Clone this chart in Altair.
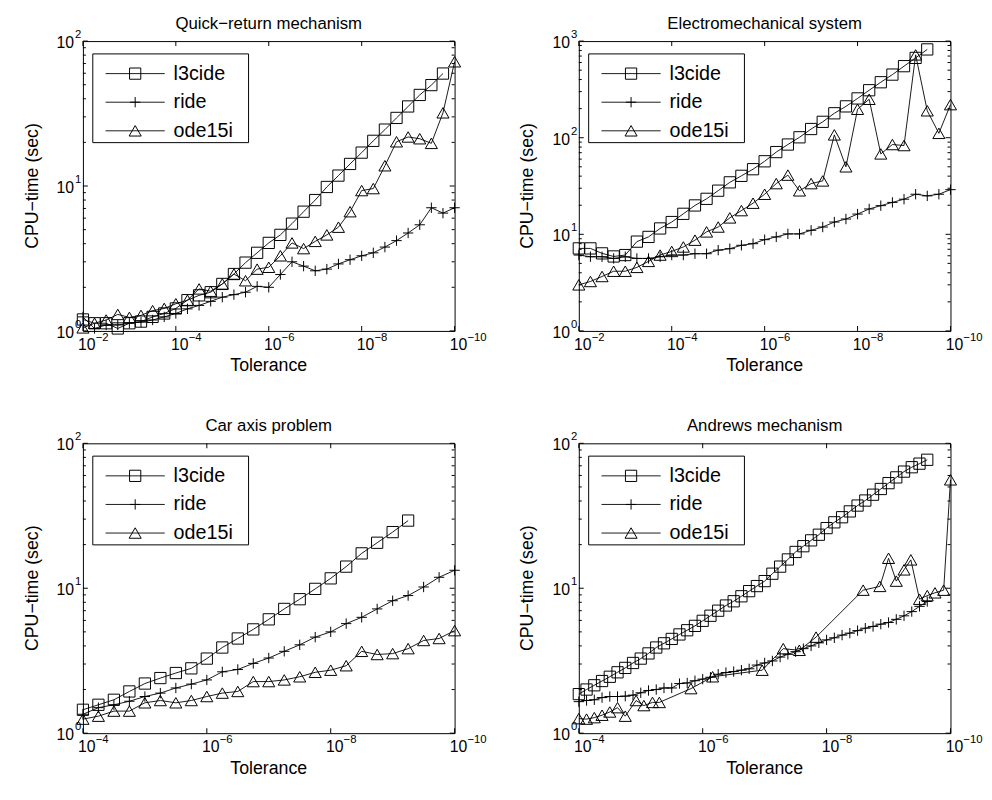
import altair as alt
import pandas as pd

FONT = "Liberation Sans"
W, H = 377, 294

# ---------------- data ----------------
# Tolerance exponents: 10^-2 ... 10^-10 in quarter decades (top row),
# 10^-4 ... 10^-10 in quarter decades (car axis), eighth decades (Andrews)
QR_EXP = [-2 - 0.25 * i for i in range(33)]
EM_EXP = [-2 - 0.25 * i for i in range(33)]
CA_EXP = [-4 - 0.25 * i for i in range(25)]
AM_EXP = [-4 - 0.125 * i for i in range(49)]

# Quick-return mechanism
QR_L3CIDE = [1.2, 1.13, 1.13, 1.04, 1.13, 1.16, 1.25, 1.32, 1.43, 1.63, 1.76, 1.85,
             2.11, 2.47, 2.96, 3.46, 4.05, 4.6, 5.5, 6.65, 8.0, 9.85, 11.8, 14.2,
             17.0, 20.5, 24.5, 29.5, 35.4, 42.5, 49.7, 59.7]
QR_RIDE = [1.25, 1.04, 1.1, 1.1, 1.13, 1.15, 1.19, 1.25, 1.32, 1.42, 1.5, 1.6,
           1.71, 1.78, 1.85, 2.03, 2.0, 2.45, 3.0, 2.8, 2.6, 2.67, 2.9, 3.1,
           3.3, 3.46, 3.79, 4.2, 4.74, 5.4, 7.08, 6.5, 7.08]
QR_ODE15I = [1.05, 1.13, 1.19, 1.3, 1.24, 1.28, 1.38, 1.43, 1.54, 1.63, 1.95, 1.88,
             2.11, 2.47, 2.22, 2.67, 2.75, 3.3, 4.05, 3.7, 4.15, 4.6, 5.2, 6.65,
             9.3, 9.6, 13.8, 20.2, 21.8, 21.2, 19.7, 32.0, 72.0]

# Electromechanical system
EM_L3CIDE = [7.15, 7.15, 6.35, 5.9, 6.1, 8.4, 9.4, 11.5, 13.4, 16.3, 19.9, 23.3,
             28.3, 34.5, 40.3, 47.2, 57.0, 71.0, 85.0, 101.0, 123.0, 146.0, 179.0,
             211.0, 255.0, 310.0, 375.0, 450.0, 550.0, 670.0, 820.0]
EM_RIDE = [6.1, 5.86, 5.86, 5.63, 5.86, 5.63, 5.63, 5.86, 6.1, 6.1, 6.3, 6.3,
           6.86, 7.1, 7.7, 8.0, 8.8, 9.4, 10.1, 10.1, 11.0, 11.9, 13.4, 14.4,
           16.2, 18.3, 19.8, 21.4, 23.1, 26.0, 25.0, 26.0, 29.0]
EM_ODE15I = [3.0, 3.25, 3.66, 4.15, 4.15, 4.55, 5.25, 6.1, 6.65, 7.4, 8.7, 10.6,
             11.9, 14.8, 17.6, 21.0, 26.0, 33.5, 41.0, 28.2, 33.5, 35.7, 107.0, 50.0,
             197.0, 250.0, 68.0, 85.0, 83.0, 720.0, 190.0, 111.0, 220.0]

# Car axis problem
CA_L3CIDE = [1.45, 1.57, 1.7, 1.94, 2.2, 2.4, 2.6, 2.8, 3.27, 3.9, 4.5, 5.2,
             6.1, 7.2, 8.4, 9.9, 11.7, 14.1, 17.4, 20.6, 24.4, 29.3]
CA_RIDE = [1.35, 1.5, 1.57, 1.66, 1.79, 1.89, 2.05, 2.18, 2.33, 2.65, 2.75, 3.03,
           3.3, 3.67, 4.07, 4.6, 5.0, 5.7, 6.3, 7.2, 8.2, 8.9, 10.2, 11.9, 13.3]
CA_ODE15I = [1.25, 1.31, 1.42, 1.42, 1.62, 1.68, 1.62, 1.68, 1.79, 1.89, 1.94, 2.27,
             2.27, 2.33, 2.45, 2.63, 2.72, 2.92, 3.67, 3.49, 3.54, 3.83, 4.36, 4.5, 5.1]

# Andrews mechanism
AM_L3CIDE = [1.86, 2.0, 2.14, 2.29, 2.45, 2.63, 2.82, 3.05, 3.27, 3.55, 3.9, 4.17,
             4.47, 4.8, 5.13, 5.5, 5.96, 6.46, 7.0, 7.6, 8.13, 8.8, 9.55, 10.35,
             11.2, 12.6, 14.1, 15.8, 17.8, 19.5, 21.4, 23.4, 26.0, 28.5, 30.9, 33.9,
             37.2, 40.3, 44.2, 48.4, 53.1, 58.2, 63.8, 68.4, 72.4, 77.0]
AM_RIDE = [1.65, 1.68, 1.7, 1.76, 1.79, 1.79, 1.8, 1.83, 1.9, 1.97, 2.0, 2.05,
           2.05, 2.2, 2.22, 2.3, 2.36, 2.43, 2.55, 2.62, 2.66, 2.72, 2.78, 2.95,
           3.05, 3.15, 3.35, 3.5, 3.65, 3.83, 4.0, 4.2, 4.4, 4.55, 4.75, 4.9,
           5.1, 5.3, 5.45, 5.65, 5.8, 6.1, 6.45, 6.9, 7.5, 8.1]
AM_ODE_EXP = [-4.0, -4.125, -4.25, -4.375, -4.5, -4.625, -4.75, -4.925, -5.05, -5.19,
              -5.3, -5.81, -6.16, -6.96, -7.3, -7.56, -7.83, -8.59, -8.86, -9.0,
              -9.125, -9.25, -9.36, -9.5, -9.625, -9.75, -9.89, -10.0]
AM_ODE15I = [1.26, 1.25, 1.28, 1.33, 1.4, 1.5, 1.31, 1.68, 1.55, 1.63,
             1.63, 2.03, 2.45, 2.72, 3.83, 3.73, 4.6, 9.7, 10.3, 16.1,
             11.2, 13.4, 15.7, 8.4, 8.9, 9.3, 9.7, 56.0]

NAMES = ["l3cide", "ride", "ode15i"]
PLUS = "M-1,0L1,0M0,-1L0,1"
SHAPES = {"l3cide": ("square", 130), "ride": (PLUS, 110), "ode15i": ("triangle-up", 150)}

ONE = pd.DataFrame({"a": [0]})


def text_mark(txt, x, y, size, **kw):
    return alt.Chart(ONE).mark_text(text=txt, font=FONT, fontSize=size, color="black", **kw).encode(
        x=alt.value(x), y=alt.value(y))


def panel(title, xlo, xhi, ydec, series, xlabels, anchor=False):
    xs = alt.Scale(type="log", domain=[10.0 ** xlo, 10.0 ** xhi], nice=False)
    ys = alt.Scale(type="log", domain=[1, 10 ** ydec], nice=False)
    X = lambda f: alt.X(f, scale=xs, axis=None)
    Y = lambda f: alt.Y(f, scale=ys, axis=None)
    layers = []
    for name, exps, vals in series:
        df = pd.DataFrame({"tol": [10.0 ** e for e in exps], "val": vals, "i": list(range(len(vals)))})
        base = alt.Chart(df)
        layers.append(base.mark_line(color="black", strokeWidth=0.9).encode(
            x=X("tol:Q"), y=Y("val:Q"), order="i:Q"))
        shp, sz = SHAPES[name]
        layers.append(base.mark_point(shape=shp, size=sz, filled=False, color="black",
                                      strokeWidth=1, opacity=1).encode(x=X("tol:Q"), y=Y("val:Q")))
    # y ticks
    ymaj = pd.DataFrame({"v": [10 ** d for d in range(ydec + 1)]})
    ymin = pd.DataFrame({"v": [m * 10 ** d for d in range(ydec) for m in range(2, 10)]})
    for df, ln in ((ymaj, 5), (ymin, 3)):
        layers.append(alt.Chart(df).mark_rule(color="black", strokeWidth=1).encode(
            y=Y("v:Q"), x=alt.value(0), x2=alt.value(ln)))
        layers.append(alt.Chart(df).mark_rule(color="black", strokeWidth=1).encode(
            y=Y("v:Q"), x=alt.value(W), x2=alt.value(W - ln)))
    # x ticks
    xt = pd.DataFrame({"t": [10.0 ** e for e, _ in xlabels], "e": [s for _, s in xlabels]})
    layers.append(alt.Chart(xt).mark_rule(color="black", strokeWidth=1).encode(
        x=X("t:Q"), y=alt.value(H), y2=alt.value(H - 5)))
    layers.append(alt.Chart(xt).mark_rule(color="black", strokeWidth=1).encode(
        x=X("t:Q"), y=alt.value(0), y2=alt.value(5)))
    # x tick labels (10 with superscript exponent)
    layers.append(alt.Chart(xt).mark_text(text="10", font=FONT, fontSize=16, align="center",
                                          baseline="middle", dx=4).encode(
        x=X("t:Q"), y=alt.value(H + 14)))
    layers.append(alt.Chart(xt).mark_text(font=FONT, fontSize=11.5, align="left",
                                          baseline="middle", dx=13).encode(
        x=X("t:Q"), y=alt.value(H + 7), text="e:N"))
    # y tick labels
    yl = pd.DataFrame({"v": [10 ** d for d in range(ydec + 1)], "e": [str(d) for d in range(ydec + 1)]})
    layers.append(alt.Chart(yl).mark_text(text="10", font=FONT, fontSize=16, align="right",
                                          baseline="middle", dy=2).encode(
        x=alt.value(-9), y=Y("v:Q")))
    layers.append(alt.Chart(yl).mark_text(font=FONT, fontSize=11.5, align="left",
                                          baseline="middle", dy=-6).encode(
        x=alt.value(-8), y=Y("v:Q"), text="e:N"))
    # titles
    layers.append(text_mark(title, W / 2, -12, 17, align="center", baseline="alphabetic"))
    layers.append(text_mark("Tolerance", W / 2, H + 36, 18, align="center", baseline="middle"))
    layers.append(text_mark("CPU\u2212time (sec)", -51, H / 2, 18, align="center",
                            baseline="middle", angle=270))
    # legend
    layers.append(alt.Chart(ONE).mark_rect(fill="white", stroke="black", strokeWidth=1).encode(
        x=alt.value(10), x2=alt.value(168), y=alt.value(13), y2=alt.value(103)))
    for r, name in enumerate(NAMES):
        yy = 33 + 29 * r
        layers.append(alt.Chart(ONE).mark_rule(color="black", strokeWidth=0.9).encode(
            x=alt.value(23), x2=alt.value(83), y=alt.value(yy)))
        shp, sz = SHAPES[name]
        layers.append(alt.Chart(ONE).mark_point(shape=shp, size=sz, filled=False, color="black",
                                                strokeWidth=1, opacity=1).encode(
            x=alt.value(53), y=alt.value(yy)))
        layers.append(text_mark(name, 92, yy, 20, align="left", baseline="middle"))
    if anchor:
        layers.append(alt.Chart(ONE).mark_rule(opacity=0).encode(
            x=alt.value(-75), x2=alt.value(-74), y=alt.value(-27), y2=alt.value(-26)))
    return alt.layer(*layers).properties(width=W, height=H)


XL_TOP = [(-2, "\u22122"), (-4, "\u22124"), (-6, "\u22126"), (-8, "\u22128"), (-10, "\u221210")]
XL_BOT = [(-4, "\u22124"), (-6, "\u22126"), (-8, "\u22128"), (-10, "\u221210")]

tl = panel("Quick\u2212return mechanism", -2, -10, 2,
           [("l3cide", QR_EXP[:len(QR_L3CIDE)], QR_L3CIDE),
            ("ride", QR_EXP[:len(QR_RIDE)], QR_RIDE),
            ("ode15i", QR_EXP[:len(QR_ODE15I)], QR_ODE15I)], XL_TOP, anchor=True)
tr = panel("Electromechanical system", -2, -10, 3,
           [("l3cide", EM_EXP[:len(EM_L3CIDE)], EM_L3CIDE),
            ("ride", EM_EXP[:len(EM_RIDE)], EM_RIDE),
            ("ode15i", EM_EXP[:len(EM_ODE15I)], EM_ODE15I)], XL_TOP)
bl = panel("Car axis problem", -4, -10, 2,
           [("l3cide", CA_EXP[:len(CA_L3CIDE)], CA_L3CIDE),
            ("ride", CA_EXP[:len(CA_RIDE)], CA_RIDE),
            ("ode15i", CA_EXP[:len(CA_ODE15I)], CA_ODE15I)], XL_BOT)
br = panel("Andrews mechanism", -4, -10, 2,
           [("l3cide", AM_EXP[:len(AM_L3CIDE)], AM_L3CIDE),
            ("ride", AM_EXP[:len(AM_RIDE)], AM_RIDE),
            ("ode15i", AM_ODE_EXP, AM_ODE15I)], XL_BOT)

chart = alt.concat(tl, tr, bl, br, columns=2, spacing={"row": 114, "column": 126},
                   bounds="flush").properties(
    padding=0, background="white"
).configure_view(stroke="black", strokeWidth=1)

chart.save("out.html", embed_options={"renderer": "svg", "actions": False})
